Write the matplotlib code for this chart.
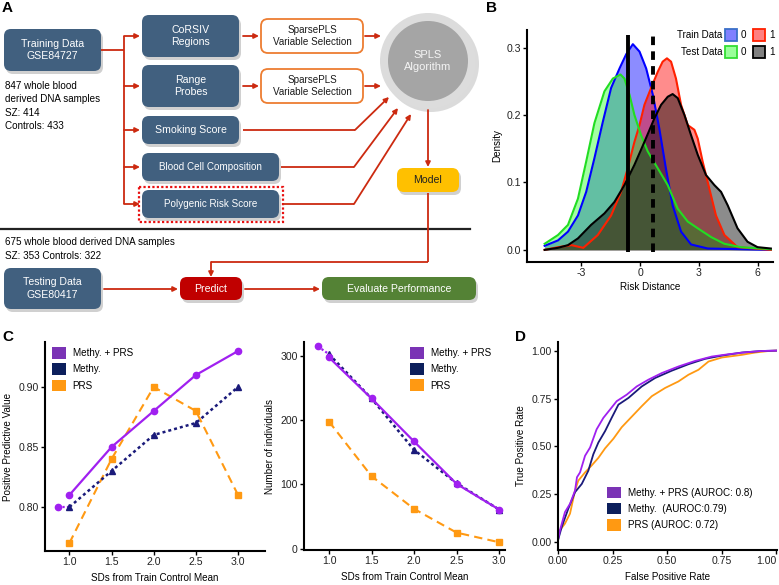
import numpy as np
import matplotlib
matplotlib.use("Agg")
import matplotlib.pyplot as plt
from matplotlib.patches import FancyBboxPatch, Circle, Rectangle, Patch

plt.rcParams['font.family'] = ['Liberation Sans', 'DejaVu Sans']
FS = 7.1       # labels, legends, flow chart text
FS_TICK = 7.6  # tick labels

# ---------------- data ----------------
# panel B: density curves (risk distance, density)
train0_x = [-4.87, -4.19, -3.68, -3.17, -2.75, -2.33, -1.90, -1.48, -1.05, -0.71, -0.37,
            -0.03, 0.31, 0.65, 0.98, 1.32, 1.66, 2.09, 2.60, 3.45, 6.67]
train0_d = [0.006, 0.014, 0.027, 0.051, 0.086, 0.136, 0.190, 0.240, 0.269, 0.290, 0.305,
            0.294, 0.269, 0.230, 0.180, 0.120, 0.066, 0.027, 0.008, 0.002, 0.0]
train1_x = [-4.87, -4.19, -3.5, -2.9, -2.16, -1.48, -0.97, -0.63, -0.29, -0.03, 0.22, 0.56,
            0.90, 1.15, 1.37, 1.58, 1.83, 2.09, 2.43, 2.77, 2.94, 3.19, 3.53, 3.87, 4.30,
            4.97, 6.67]
train1_d = [0.0, 0.004, 0.007, 0.003, 0.022, 0.051, 0.086, 0.121, 0.160, 0.185, 0.215, 0.240,
            0.264, 0.279, 0.284, 0.279, 0.254, 0.215, 0.185, 0.178, 0.165, 0.131, 0.091,
            0.051, 0.022, 0.004, 0.0]
test0_x = [-4.87, -4.19, -3.68, -3.17, -2.75, -2.33, -1.82, -1.39, -1.0, -0.8, -0.54, -0.29,
           0.05, 0.39, 0.90, 1.41, 1.92, 2.43, 2.94, 3.62, 4.30, 5.14, 6.67]
test0_d = [0.009, 0.022, 0.037, 0.076, 0.131, 0.188, 0.235, 0.254, 0.260, 0.254, 0.230, 0.200,
           0.170, 0.146, 0.121, 0.096, 0.061, 0.042, 0.032, 0.019, 0.009, 0.004, 0.001]
test1_x = [-4.87, -4.19, -3.68, -3.17, -2.5, -1.82, -1.31, -0.8, -0.29, 0.22, 0.73, 1.07,
           1.41, 1.66, 1.92, 2.26, 2.60, 2.94, 3.36, 3.79, 4.13, 4.47, 4.97, 5.48, 5.99, 6.67]
test1_d = [0.0, 0.003, 0.007, 0.017, 0.037, 0.054, 0.071, 0.096, 0.126, 0.160, 0.195, 0.215,
           0.227, 0.231, 0.225, 0.200, 0.170, 0.141, 0.111, 0.096, 0.086, 0.066, 0.032,
           0.012, 0.004, 0.002]
cutoffs = [-0.63, 0.68]

# panel C
sds = [1.0, 1.5, 2.0, 2.5, 3.0]
ppv_both = [0.81, 0.85, 0.88, 0.91, 0.93]
ppv_methy = [0.80, 0.83, 0.86, 0.87, 0.90]
ppv_prs = [0.77, 0.84, 0.90, 0.88, 0.81]
n_both = [298, 234, 167, 101, 61]
n_methy = [303, 234, 154, 102, 61]
n_prs = [198, 113, 62, 25, 10]
extra_sd = 0.87
extra_ppv = 0.80
extra_n = 315

# panel D: ROC curves
fpr_both = [0, 0.009, 0.032, 0.055, 0.078, 0.087, 0.101, 0.124, 0.147, 0.177, 0.208, 0.239,
            0.269, 0.315, 0.361, 0.414, 0.476, 0.552, 0.628, 0.705, 0.781, 0.858, 0.933, 1.0]
tpr_both = [0.01, 0.062, 0.157, 0.2, 0.269, 0.339, 0.364, 0.451, 0.494, 0.589, 0.649, 0.693,
            0.736, 0.77, 0.813, 0.848, 0.883, 0.917, 0.946, 0.969, 0.981, 0.991, 0.998, 1.0]
fpr_methy = [0, 0.017, 0.047, 0.078, 0.109, 0.139, 0.162, 0.185, 0.216, 0.246, 0.277, 0.323,
             0.384, 0.445, 0.521, 0.598, 0.674, 0.751, 0.843, 0.933, 1.0]
tpr_methy = [0.01, 0.079, 0.174, 0.261, 0.304, 0.373, 0.459, 0.52, 0.58, 0.649, 0.718, 0.753,
             0.813, 0.857, 0.895, 0.929, 0.957, 0.974, 0.99, 0.998, 1.0]
fpr_prs = [0, 0.009, 0.032, 0.055, 0.078, 0.093, 0.124, 0.154, 0.185, 0.216, 0.254, 0.292,
           0.338, 0.384, 0.43, 0.491, 0.552, 0.598, 0.644, 0.69, 0.751, 0.843, 0.904, 0.965, 1.0]
tpr_prs = [0.028, 0.062, 0.097, 0.149, 0.269, 0.321, 0.364, 0.40, 0.44, 0.49, 0.54, 0.60,
           0.655, 0.71, 0.762, 0.805, 0.839, 0.874, 0.9, 0.943, 0.964, 0.978, 0.99, 0.998, 1.0]
roc_labels = ['Methy. + PRS (AUROC: 0.8)', 'Methy.  (AUROC:0.79)', 'PRS (AUROC: 0.72)']
series_labels = ['Methy. + PRS', 'Methy.', 'PRS']

PURPLE = '#a020f0'
NAVY = '#1a1a7a'
ORANGE = '#ff9912'
LEG_COLS = ['#7a33b5', '#0c1f5c', '#ff9912']
RED = '#cc2a10'
BLUEBOX = '#41607f'

W, H = 779, 585
fig = plt.figure(figsize=(W / 100, H / 100), dpi=100)


def px_axes(l, t, r, b):
    return fig.add_axes([l / W, 1 - b / H, (r - l) / W, (b - t) / H])


def style(ax):
    for s in ['top', 'right']:
        ax.spines[s].set_visible(False)
    for s in ['left', 'bottom']:
        ax.spines[s].set_linewidth(1.5)
    ax.tick_params(length=3, width=1, labelsize=FS_TICK, pad=1.5, colors='black',
                   labelcolor='#222222')


# ---------------- panel A: flow chart ----------------
fa = fig.add_axes([0, 0, 1, 1])
fa.set_xlim(0, W)
fa.set_ylim(H, 0)
fa.axis('off')


def box(x0, y0, x1, y1, fc, text, tc='white', ec='none', lw=0, shadow=True, fs=FS):
    if shadow:
        fa.add_patch(FancyBboxPatch((x0 + 2, y0 + 3), x1 - x0, y1 - y0,
                                    boxstyle='round,pad=0,rounding_size=7',
                                    fc='#8a8a8a', ec='none', alpha=0.4))
    fa.add_patch(FancyBboxPatch((x0, y0), x1 - x0, y1 - y0,
                                boxstyle='round,pad=0,rounding_size=7',
                                fc=fc, ec=ec, lw=lw))
    fa.text((x0 + x1) / 2, (y0 + y1) / 2, text, ha='center', va='center', color=tc,
            fontsize=fs, linespacing=1.3)


def arrow(p0, p1):
    fa.annotate('', xy=p1, xytext=p0,
                arrowprops=dict(arrowstyle='-|>', color=RED, lw=1.3, mutation_scale=7,
                                shrinkA=0, shrinkB=0))


def seg(xs, ys):
    fa.plot(xs, ys, color=RED, lw=1.3, solid_capstyle='butt')


box(4, 29, 101, 71, BLUEBOX, 'Training Data\nGSE84727', fs=7.6)
fa.text(5, 106, '847 whole blood\nderived DNA samples\nSZ: 414\nControls: 433',
        ha='left', va='center', fontsize=FS, linespacing=1.45)

box(142, 15, 239, 57, BLUEBOX, 'CoRSIV\nRegions', fs=7.6)
box(142, 65, 239, 107, BLUEBOX, 'Range\nProbes', fs=7.6)
box(142, 116, 239, 144, BLUEBOX, 'Smoking Score', fs=7.6)
box(142, 153, 279, 181, BLUEBOX, 'Blood Cell Composition')
box(142, 190, 279, 218, BLUEBOX, 'Polygenic Risk Score')
fa.add_patch(Rectangle((139, 187), 144, 35, fill=False, ec='#e81010', lw=1.6, ls=(0, (1, 1))))

box(261, 19, 363, 53, 'white', 'SparsePLS\nVariable Selection', tc='#1a1a1a',
    ec='#ed7d31', lw=1.3, shadow=False)
box(261, 69, 363, 103, 'white', 'SparsePLS\nVariable Selection', tc='#1a1a1a',
    ec='#ed7d31', lw=1.3, shadow=False)

fa.add_patch(Circle((431, 64), 48, fc='#9a9a9a', ec='none', alpha=0.35))
fa.add_patch(Circle((428, 61), 48, fc='#dcdcdc', ec='none'))
fa.add_patch(Circle((428, 61), 40, fc='#a5a5a5', ec='none'))
fa.text(428, 61, 'SPLS\nAlgorithm', ha='center', va='center', color='#f4f4f4',
        fontsize=8.0, linespacing=1.3)

box(397, 168, 459, 192, '#ffc000', 'Model', tc='#222222', fs=7.6)

# branch from training data
seg([101, 124], [50, 50])
seg([124, 124], [36, 204])
for yy in [36, 86, 130, 167, 204]:
    arrow((124, yy), (140, yy))
for yy in [36, 86]:
    arrow((243, yy), (259, yy))
    arrow((365, yy), (381, yy))
seg([243, 355], [130, 130])
arrow((355, 130), (389, 97))
seg([281, 354], [167, 167])
arrow((354, 167), (398, 108))
seg([283, 354], [204, 204])
arrow((354, 204), (411, 114))
arrow((428, 110), (428, 167))

fa.plot([0, 470], [229, 229], color='#222222', lw=1.6)
fa.text(5, 249, '675 whole blood derived DNA samples\nSZ: 353 Controls: 322',
        ha='left', va='center', fontsize=FS, linespacing=1.45)

seg([428, 428], [193, 262])
seg([428, 211], [262, 262])
arrow((211, 262), (211, 277))

box(4, 268, 101, 309, BLUEBOX, 'Testing Data\nGSE80417', fs=7.6)
box(180, 277, 242, 300, '#c00000', 'Predict', fs=7.6)
box(322, 277, 476, 300, '#548235', 'Evaluate Performance', fs=7.6)
arrow((104, 289), (178, 289))
arrow((245, 289), (320, 289))

for lab, (lx, ly) in zip('ABCD', [(2, 1), (486, 1), (2, 330), (515, 330)]):
    fig.text(lx / W, 1 - ly / H, lab, ha='left', va='top', fontsize=11, fontweight='bold')

# ---------------- panel B ----------------
axb = px_axes(527, 30, 773, 262)
style(axb)
groups = [(train0_x, train0_d, '#0000ff', '#0000ff'),
          (train1_x, train1_d, '#ff0000', '#ff2000'),
          (test0_x, test0_d, '#33ff33', '#22dd22'),
          (test1_x, test1_d, '#000000', '#000000')]
for xs, ds, fc, lc in groups:
    axb.fill_between(xs, 0, ds, color=fc, alpha=0.45, lw=0)
    axb.plot(xs, ds, color=lc, lw=1.5)
axb.vlines(cutoffs[0], -0.003, 0.319, color='black', lw=2.8)
axb.vlines(cutoffs[1], -0.003, 0.319, color='black', lw=2.8, linestyles=(0, (2.2, 1.6)))
axb.set_xlim(-5.77, 6.78)
axb.set_ylim(-0.018, 0.326)
axb.set_xticks([-3, 0, 3, 6])
axb.set_xticklabels(['-3', '0', '3', '6'])
axb.set_yticks([0.0, 0.1, 0.2, 0.3])
axb.set_yticklabels(['0.0', '0.1', '0.2', '0.3'])
axb.set_xlabel('Risk Distance', fontsize=FS, labelpad=3)
axb.set_ylabel('Density', fontsize=FS, labelpad=3)

leg_rows = [('Train Data', 0.978, [('#8080ff', '#3a6fc8'), ('#ff8080', '#ff2000')]),
            ('Test Data', 0.905, [('#99ff99', '#33dd33'), ('#808080', '#000000')])]
for name, yc, boxes in leg_rows:
    axb.text(0.795, yc, name, transform=axb.transAxes, ha='right', va='center', fontsize=FS)
    for k, (fc, ec) in enumerate(boxes):
        x0 = 0.803 + k * 0.115
        axb.add_patch(Rectangle((x0, yc - 0.026), 0.05, 0.052, transform=axb.transAxes,
                                fc=fc, ec=ec, lw=1.3, clip_on=False))
        axb.text(x0 + 0.066, yc, str(k), transform=axb.transAxes, ha='left', va='center',
                 fontsize=FS)


# ---------------- panel C ----------------
def draw_c(ax, yb, ym, yp, yx):
    ax.plot([extra_sd, sds[0]], [yx, ym[0]], color=PURPLE, lw=1.6, ls=(0, (1, 1)))
    ax.plot([extra_sd], [yx], 'o', color=PURPLE, ms=4.5)
    ax.plot(sds, yp, color=ORANGE, lw=1.5, ls=(0, (4, 2.5)), marker='s', ms=4.5)
    ax.plot(sds, ym, color=NAVY, lw=1.8, ls=(0, (1.2, 1.2)), marker='^', ms=5)
    ax.plot(sds, yb, color=PURPLE, lw=1.6, marker='o', ms=4.5)


def c_legend(ax, x, y, labels):
    handles = [Patch(fc=c, ec='none') for c in LEG_COLS]
    ax.legend(handles, labels, loc='upper left', bbox_to_anchor=(x, y), frameon=False,
              fontsize=FS, handlelength=1.45, handleheight=1.45, labelspacing=0.45,
              handletextpad=0.65, borderpad=0, borderaxespad=0)


axc1 = px_axes(45, 342, 265, 551)
style(axc1)
draw_c(axc1, ppv_both, ppv_methy, ppv_prs, extra_ppv)
axc1.set_xlim(0.71, 3.32)
axc1.set_ylim(0.7633, 0.9375)
axc1.set_xticks(sds)
axc1.set_xticklabels(['1.0', '1.5', '2.0', '2.5', '3.0'])
axc1.set_yticks([0.80, 0.85, 0.90])
axc1.set_yticklabels(['0.80', '0.85', '0.90'])
axc1.set_xlabel('SDs from Train Control Mean', fontsize=FS, labelpad=4)
axc1.set_ylabel('Positive Predictive Value', fontsize=FS, labelpad=4)
c_legend(axc1, 0.032, 0.975, series_labels)

axc2 = px_axes(304, 342, 505, 550)
style(axc2)
draw_c(axc2, n_both, n_methy, n_prs, extra_n)
axc2.set_xlim(0.706, 3.07)
axc2.set_ylim(-2.1, 322)
axc2.set_xticks(sds)
axc2.set_xticklabels(['1.0', '1.5', '2.0', '2.5', '3.0'])
axc2.set_yticks([0, 100, 200, 300])
axc2.set_xlabel('SDs from Train Control Mean', fontsize=FS, labelpad=4)
axc2.set_ylabel('Number of individuals', fontsize=FS, labelpad=4)
c_legend(axc2, 0.527, 0.975, series_labels)

# ---------------- panel D ----------------
axd = px_axes(558, 342, 777, 550)
style(axd)
axd.plot(fpr_prs, tpr_prs, color=ORANGE, lw=1.3)
axd.plot(fpr_methy, tpr_methy, color=NAVY, lw=1.3)
axd.plot(fpr_both, tpr_both, color=PURPLE, lw=1.3)
axd.set_xlim(0, 1.004)
axd.set_ylim(-0.041, 1.045)
ticks = [0, 0.25, 0.5, 0.75, 1.0]
axd.set_xticks(ticks)
axd.set_yticks(ticks)
axd.set_xticklabels(['0.00', '0.25', '0.50', '0.75', '1.00'])
axd.set_yticklabels(['0.00', '0.25', '0.50', '0.75', '1.00'])
axd.get_xticklabels()[-1].set_horizontalalignment('right')
axd.set_xlabel('False Positive Rate', fontsize=FS, labelpad=4)
axd.set_ylabel('True Positive Rate', fontsize=FS, labelpad=4)
c_legend(axd, 0.224, 0.305, roc_labels)

fig.savefig('out.png', dpi=100)
